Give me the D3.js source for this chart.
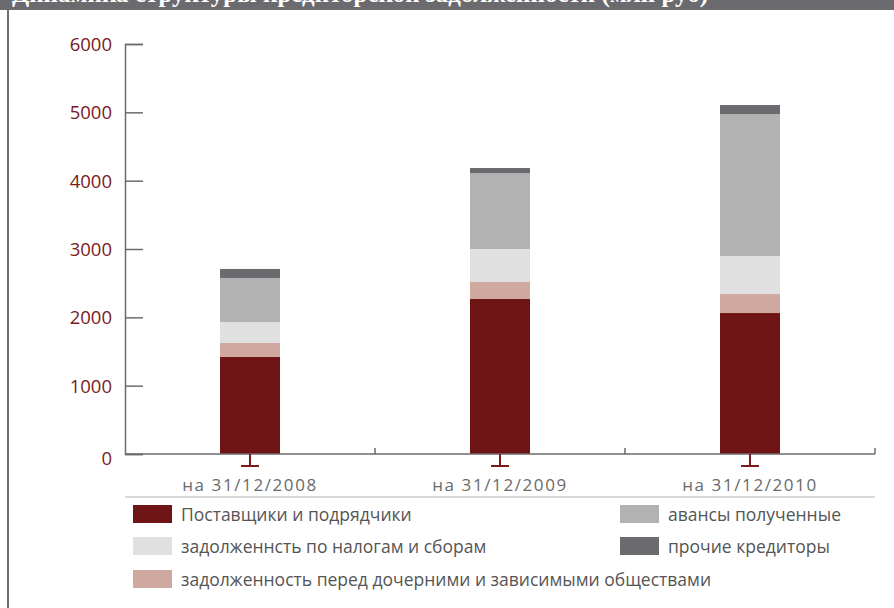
<!DOCTYPE html>
<html><head><meta charset="utf-8">
<script src="https://cdn.jsdelivr.net/npm/d3@7"></script>
<style>body{margin:0;background:#fff}svg{display:block}</style>
</head><body>
<svg id="c" width="894" height="608"></svg>
<script>
const titleText = "Динамика структуры кредиторской задолженности (млн руб)";
const categories = ["на 31/12/2008", "на 31/12/2009", "на 31/12/2010"];
const seriesNames = ["Поставщики и подрядчики", "задолженность перед дочерними и зависимыми обществами", "задолженнсть по налогам и сборам", "авансы полученные", "прочие кредиторы"];
const suppliers = [1420, 2268, 2063];
const subsidiaries = [205, 249, 278];
const taxes = [307, 483, 556];
const advances = [644, 1112, 2078];
const others = [132, 73, 132];
const colors = ["#6e1414", "#cfa9a0", "#e0e0e0", "#b2b2b2", "#6b6b6f"];
const yTicks = [0, 1000, 2000, 3000, 4000, 5000, 6000];

const svg = d3.select("#c");
const font = "'Open Sans', 'Noto Sans', sans-serif";

// header bar and frame
svg.append("rect").attr("x", 0).attr("y", 0).attr("width", 894).attr("height", 10).attr("fill", "#6b6b6f");
svg.append("text").attr("x", 12).attr("y", 1.5).attr("fill", "#fff")
  .attr("font-family", "'Liberation Serif', serif").attr("font-weight", "bold").attr("font-size", 25)
  .text(titleText);
svg.append("line").attr("x1", 8).attr("x2", 8).attr("y1", 10).attr("y2", 608).attr("stroke", "#6b6b6f").attr("stroke-width", 2);

const x = d3.scaleBand().domain(categories).range([125, 875]);
const y = d3.scaleLinear().domain([0, 6000]).range([454, 44]);

const rows = categories.map((c, i) => ({cat: c, s0: suppliers[i], s1: subsidiaries[i], s2: taxes[i], s3: advances[i], s4: others[i]}));
const stack = d3.stack().keys(["s0", "s1", "s2", "s3", "s4"])(rows);
const barW = 60;

svg.append("g").selectAll("g").data(stack).join("g").attr("fill", (d, i) => colors[i])
  .selectAll("rect").data(d => d).join("rect")
  .attr("x", d => x(d.data.cat) + x.bandwidth() / 2 - barW / 2)
  .attr("width", barW)
  .attr("y", d => y(d[1]))
  .attr("height", d => y(d[0]) - y(d[1]));

// y axis
const axisColor = "#6e6a6e";
const yAxis = svg.append("g").attr("transform", "translate(125,0)")
  .call(d3.axisRight(y).tickValues(yTicks).tickSize(18).tickFormat(""));
yAxis.select(".domain").attr("stroke", axisColor).attr("stroke-width", 1.5);
yAxis.selectAll(".tick line").attr("stroke", axisColor).attr("stroke-width", 1.5);
svg.append("g").selectAll("text").data(yTicks).join("text")
  .attr("x", 112).attr("y", d => y(d) + 7 + (d === 0 ? 4 : 0))
  .attr("text-anchor", "end").attr("fill", "#7a1a1a")
  .attr("font-family", font).attr("font-size", 18.5).text(d => d);

// x axis
svg.append("line").attr("x1", 125).attr("x2", 875).attr("y1", 454).attr("y2", 454)
  .attr("stroke", axisColor).attr("stroke-width", 1.5);
const bounds = categories.map(c => x(c) + x.bandwidth());
svg.append("g").selectAll("line").data(bounds).join("line")
  .attr("x1", d => d).attr("x2", d => d).attr("y1", 454).attr("y2", 448)
  .attr("stroke", axisColor).attr("stroke-width", 1.5);

// markers below bars
const mk = svg.append("g").attr("stroke", "#7a1a1a").attr("stroke-width", 2);
categories.forEach(c => {
  const cx = x(c) + x.bandwidth() / 2;
  mk.append("line").attr("x1", cx).attr("x2", cx).attr("y1", 454).attr("y2", 466);
  mk.append("line").attr("x1", cx - 9).attr("x2", cx + 9).attr("y1", 466).attr("y2", 466);
});

svg.append("g").selectAll("text").data(categories).join("text")
  .attr("x", d => x(d) + x.bandwidth() / 2).attr("y", 491)
  .attr("text-anchor", "middle").attr("fill", "#6a6a6a")
  .attr("font-family", font).attr("font-size", 17).attr("letter-spacing", 1.6).text(d => d);

svg.append("line").attr("x1", 125).attr("x2", 875).attr("y1", 497).attr("y2", 497)
  .attr("stroke", "#d8d8d8").attr("stroke-width", 2);

// legend
const legendItems = [
  {i: 0, x: 133, y: 505}, {i: 2, x: 133, y: 537}, {i: 1, x: 133, y: 570},
  {i: 3, x: 620, y: 505}, {i: 4, x: 620, y: 537}
];
const lg = svg.append("g").selectAll("g").data(legendItems).join("g")
  .attr("transform", d => `translate(${d.x},${d.y})`);
lg.append("rect").attr("width", 39).attr("height", 18).attr("fill", d => colors[d.i]);
lg.append("text").attr("x", 48).attr("y", 16).attr("fill", "#555")
  .attr("font-family", font).attr("font-size", 17.5).text(d => seriesNames[d.i]);
</script>
</body></html>
